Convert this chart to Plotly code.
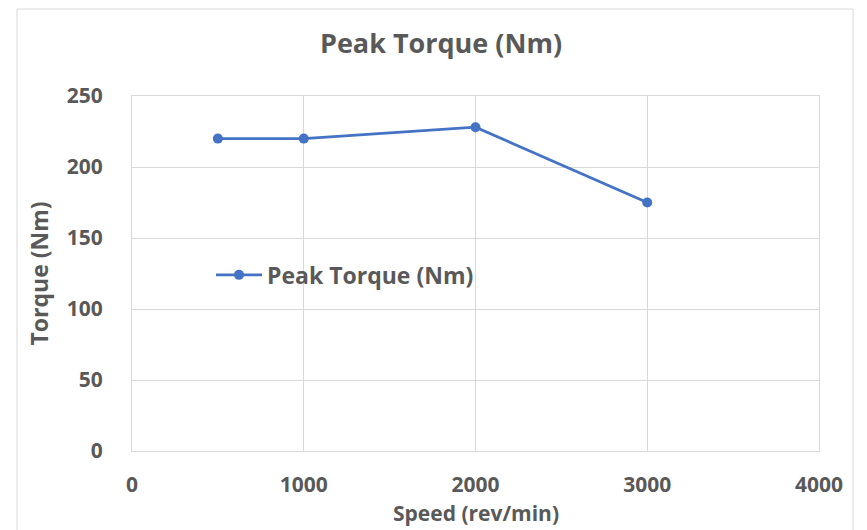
import plotly.graph_objects as go

# Peak torque measured at each motor speed
speed_rpm = [500, 1000, 2000, 3000]
peak_torque_nm = [220, 220, 228, 175]

x_ticks = [0, 1000, 2000, 3000, 4000]
y_ticks = [0, 50, 100, 150, 200, 250]

grey = "#595959"
grid = "#d9d9d9"
blue = "#4472C4"
font_family = "Open Sans, DejaVu Sans, sans-serif"

fig = go.Figure()
fig.add_trace(go.Scatter(
    x=speed_rpm,
    y=peak_torque_nm,
    mode="lines+markers",
    name="Peak Torque (Nm)",
    line=dict(color=blue, width=2.75),
    marker=dict(color=blue, size=10),
))

# Chart frame around the whole figure
fig.add_shape(type="rect", xref="paper", yref="paper",
              x0=-0.1674, x1=1.0495, y0=-0.3, y1=1.245,
              line=dict(color="#d9d9d9", width=1), fillcolor="rgba(0,0,0,0)",
              layer="below")

# Horizontal axis title, placed just under the tick labels
fig.add_annotation(text="Speed (rev/min)", xref="paper", yref="paper",
                   x=0.5, y=-0.2183, xanchor="center", yanchor="bottom",
                   showarrow=False, borderpad=0,
                   font=dict(size=21, color=grey, weight=700))

fig.update_layout(
    width=867, height=530,
    margin=dict(l=132, r=48, t=96, b=79),
    paper_bgcolor="white",
    plot_bgcolor="white",
    font=dict(family=font_family, color=grey, size=20),
    title=dict(text="Peak Torque (Nm)", x=0.5087, xanchor="center",
               xref="container", y=0.917, yanchor="middle",
               font=dict(size=27, color=grey, weight=700)),
    legend=dict(x=0.115, y=0.496, xanchor="left", yanchor="middle",
                bgcolor="rgba(0,0,0,0)", itemwidth=46,
                font=dict(size=23, color=grey, weight=700)),
    showlegend=True,
)

fig.update_xaxes(
    range=[0, 4000], tickvals=x_ticks,
    showgrid=True, gridcolor=grid, gridwidth=1,
    zeroline=False, showline=True, linecolor=grid, mirror=True,
    ticks="", ticklabelstandoff=15,
    tickfont=dict(size=21, color=grey, weight=700),
)
fig.update_yaxes(
    range=[0, 250], tickvals=y_ticks,
    showgrid=True, gridcolor=grid, gridwidth=1,
    zeroline=False, showline=True, linecolor=grid, mirror=True,
    ticks="", ticklabelstandoff=24,
    tickfont=dict(size=21, color=grey, weight=700),
    title=dict(text="Torque (Nm)", standoff=11,
               font=dict(size=23, color=grey, weight=700)),
)

fig.write_html("out.html")
